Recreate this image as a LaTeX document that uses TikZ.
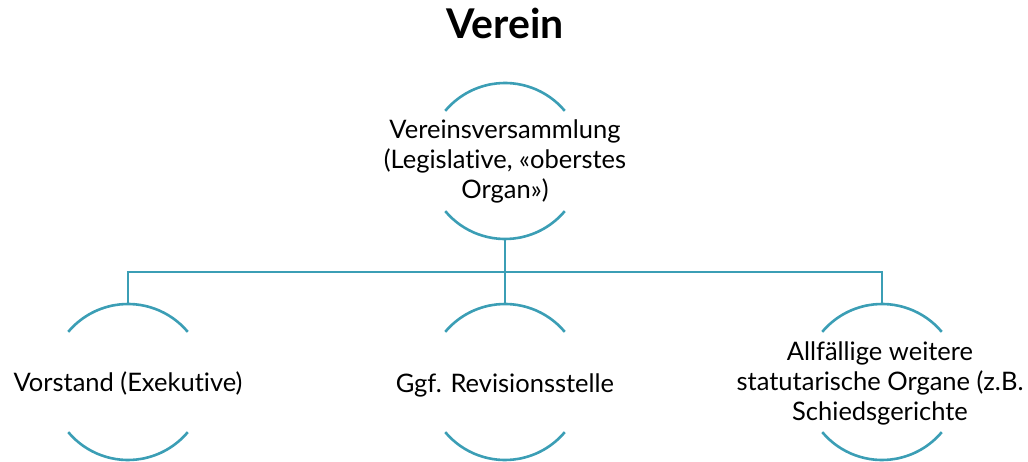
\documentclass[tikz,border=0pt]{standalone}
\usepackage{fontspec}
\setmainfont{Lato}[Ligatures={NoCommon}]
\definecolor{teal1}{RGB}{59,158,181}
\begin{document}
\begin{tikzpicture}[x=1pt,y=1pt,
  arcline/.style={draw=teal1,line width=2.6pt},
  conn/.style={draw=teal1,line width=2.6pt},
  lbl/.style={align=center,inner sep=0pt,font=\fontsize{25.5}{30}\selectfont},
  ttl/.style={inner sep=0pt,font=\fontsize{41}{44}\selectfont\bfseries}]
\useasboundingbox (0,0) rectangle (1028,-462);
\node[ttl,anchor=base] (title) at (505,-39) {Verein};
% centres of the circles
\coordinate (ctop) at (505,-161);
\coordinate (cleft) at (128,-382);
\coordinate (cmid) at (505,-382);
\coordinate (cright) at (882,-382);
% arcs
\foreach \c in {ctop,cleft,cmid,cright}{
  \draw[arcline] ([shift={(40:78)}]\c) arc[start angle=40,end angle=140,radius=78];
  \draw[arcline] ([shift={(220:78)}]\c) arc[start angle=220,end angle=320,radius=78];
}
\coordinate (topS) at ([yshift=-78]ctop);
\coordinate (leftN) at ([yshift=78]cleft);
\coordinate (midN) at ([yshift=78]cmid);
\coordinate (rightN) at ([yshift=78]cright);
\coordinate (bus) at (505,-272);
% labels
\node[lbl] (top) at (505,-161) {Vereinsversammlung\\(Legislative, «oberstes\\Organ»)};
\node[lbl,anchor=base] (left) at (128,-391) {Vorstand (Exekutive)};
\node[lbl,anchor=base] (mid) at (505,-392) {Ggf. Revisionsstelle};
\node[lbl] (right) at (880,-383) {Allfällige weitere\\statutarische Organe (z.B.\\Schiedsgerichte};
% connectors
\draw[conn] (topS) -- (bus);
\draw[conn] (leftN) |- (bus) -| (rightN);
\draw[conn] (midN) -- (bus);
\end{tikzpicture}
\end{document}
